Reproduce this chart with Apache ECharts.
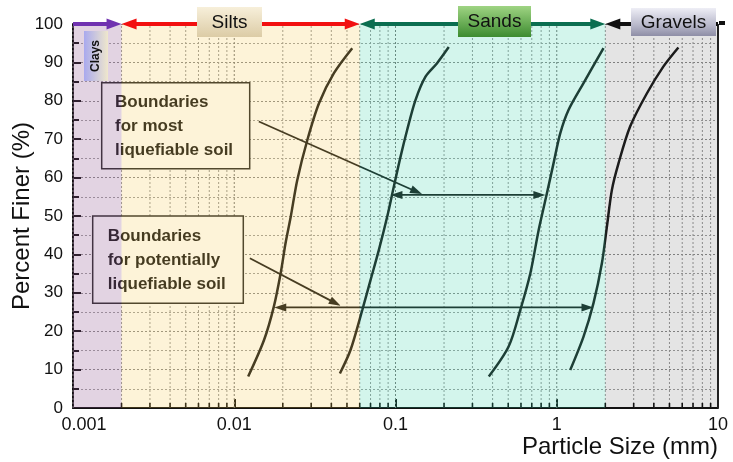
<!DOCTYPE html>
<html><head><meta charset="utf-8">
<script src="https://cdn.jsdelivr.net/npm/echarts@6/dist/echarts.min.js"></script>
<style>html,body{margin:0;padding:0;background:#fff}#c{width:733px;height:462px}</style>
</head><body><div id="c"></div>
<script>
// ---------- data ----------
const xTickLabels = [0.001, 0.01, 0.1, 1, 10];
const yTickLabels = [0,10,20,30,40,50,60,70,80,90,100];
const xDecades = [0.001, 0.01, 0.1, 1];
const xMultipliers = [1,2,3,4,5,6,7,8,9];
const bandNames = ['Clays','Silts','Sands','Gravels'];
const bandEdges = [0.001, 0.002, 0.06, 2, 10];
const topHeads = [[0,1],[1,1],[1,1],[1,0]];

const curveA = [[0.0122,8.2],[0.0153,17.7],[0.0176,26.4],[0.0194,35.1],[0.0208,42.9],[0.0224,49.8],[0.0246,59.4],[0.0284,69.8],[0.0335,79.3],[0.0415,87.2],[0.0539,93.7]];
const curveB = [[0.0452,9.0],[0.0526,15.1],[0.0622,25.5],[0.070,33.3],[0.0788,41.1],[0.0888,49.8],[0.0976,57.6],[0.1074,65.4],[0.1181,72.4],[0.133,80.2],[0.1535,86.3],[0.181,89.8],[0.214,94.0]];
const curveC = [[0.379,8.2],[0.503,16.0],[0.594,25.5],[0.686,35.1],[0.772,46.3],[0.869,55.9],[0.955,63.7],[1.051,71.5],[1.183,77.6],[1.466,84.6],[1.95,93.7]];
const curveD = [[1.212,9.9],[1.466,18.6],[1.69,27.3],[1.905,37.7],[2.046,47.2],[2.198,56.8],[2.415,63.7],[2.851,73.3],[3.619,81.9],[4.58,88.9],[5.68,93.9]];

const arrowMost = [0.093,55.5,0.85,55.5,1,1];
const arrowPotential = [0.0177,26.2,1.69,26.2,1,1];
const pointerMost = [0.0142,74.6,0.146,55.7,0,1];
const pointerPotential = [0.0125,39.0,0.0457,26.6,0,1];

const boxMostText = 'Boundaries\nfor most\nliquefiable soil';
const boxPotText = 'Boundaries\nfor potentially\nliquefiable soil';

// ---------- styles ----------
const FONT = '"Liberation Sans", Arial, sans-serif';
const bandFill = ['rgba(140,80,140,0.25)','rgba(245,195,60,0.2)','rgba(35,205,160,0.2)','rgba(30,30,30,0.12)'];
const topColors = ['#7032b0','#f21010','#0b6e50','#111111'];

const gridX = [];
xDecades.forEach(d => xMultipliers.forEach(m => gridX.push([Number((d*m).toPrecision(3))])));
gridX.push([10]);

function arrowRenderer(colorFn, lw, L, W) {
  return function (params, api) {
    const a = api.coord([api.value(0), api.value(1)]);
    const b = api.coord([api.value(2), api.value(3)]);
    const hs = api.value(4), he = api.value(5);
    const dx = b[0]-a[0], dy = b[1]-a[1];
    const len = Math.sqrt(dx*dx+dy*dy);
    const ux = dx/len, uy = dy/len, nx = -uy, ny = ux;
    const col = colorFn(params.dataIndex);
    const s = hs ? [a[0]+ux*L*0.8, a[1]+uy*L*0.8] : a;
    const e = he ? [b[0]-ux*L*0.8, b[1]-uy*L*0.8] : b;
    const children = [{type:'line', shape:{x1:s[0],y1:s[1],x2:e[0],y2:e[1]}, style:{stroke:col, lineWidth:lw}}];
    if (he) {
      const bx = b[0]-ux*L, by = b[1]-uy*L;
      children.push({type:'polygon', shape:{points:[[b[0],b[1]],[bx+nx*W,by+ny*W],[bx-nx*W,by-ny*W]]}, style:{fill:col}});
    }
    if (hs) {
      const bx = a[0]+ux*L, by = a[1]+uy*L;
      children.push({type:'polygon', shape:{points:[[a[0],a[1]],[bx+nx*W,by+ny*W],[bx-nx*W,by-ny*W]]}, style:{fill:col}});
    }
    return {type:'group', children};
  };
}

const chart = echarts.init(document.getElementById('c'), null, {renderer:'canvas'});
const topData = bandNames.map((n,i) => [bandEdges[i],100,bandEdges[i+1],100,topHeads[i][0],topHeads[i][1]]);

chart.setOption({
  animation: false,
  backgroundColor: '#ffffff',
  grid: {left:73, right:15, top:24, bottom:54, containLabel:false, outerBoundsMode:'none'},
  xAxis: {
    type:'log', logBase:10, min:xTickLabels[0], max:xTickLabels[xTickLabels.length-1],
    axisLine:{show:true, lineStyle:{color:'#111', width:2}},
    axisTick:{show:true, inside:true, length:9, lineStyle:{color:'#111', width:2}},
    axisLabel:{fontSize:18, color:'#111', fontFamily:FONT, margin:8,
      formatter: v => {
        const s = String(Number(Number(v).toPrecision(3)));
        return Math.abs(v - xTickLabels[0]) < 1e-9 ? '{first|' + s + '}' : s;
      },
      rich:{first:{fontSize:18, color:'#111', fontFamily:FONT, padding:[0,0,0,22]}}},
    splitLine:{show:false},
    name:'Particle Size (mm)', nameLocation:'end', nameGap:0, nameMoveOverlap:false,
    nameTextStyle:{fontSize:24, color:'#111', fontFamily:FONT, align:'right', verticalAlign:'top', padding:[27,0,0,0]}
  },
  yAxis: {
    type:'value', min:0, max:100, interval:10,
    axisLine:{show:true, lineStyle:{color:'#111', width:2}},
    axisTick:{show:true, inside:true, length:8, lineStyle:{color:'#111', width:2}},
    minorTick:{show:true, splitNumber:2, length:6, lineStyle:{color:'#111', width:2}},
    axisLabel:{fontSize:17, color:'#111', fontFamily:FONT, margin:10},
    splitLine:{show:true, lineStyle:{color:'#8c8c8c', width:1, type:[2,2]}},
    minorSplitLine:{show:true, lineStyle:{color:'#a0a0a0', width:1, type:[2,2]}},
    name:'Percent Finer (%)', nameLocation:'middle', nameGap:39, nameMoveOverlap:false,
    nameTextStyle:{fontSize:24, color:'#111', fontFamily:FONT}
  },
  graphic: [
    {type:'rect', z:3, shape:{x:101.7,y:82.7,width:148,height:86}, style:{fill:'#fff', stroke:'#2a2a2a', lineWidth:1.5}},
    {type:'text', z:4, x:115, y:90.7, style:{text:boxMostText, font:'bold 17px '+FONT, fill:'#1a1a1a', lineHeight:24, verticalAlign:'top'}},
    {type:'rect', z:3, shape:{x:92.7,y:216,width:150.6,height:87.3}, style:{fill:'#fff', stroke:'#2a2a2a', lineWidth:1.5}},
    {type:'text', z:4, x:107.7, y:224.7, style:{text:boxPotText, font:'bold 17px '+FONT, fill:'#1a1a1a', lineHeight:23.7, verticalAlign:'top'}},
    // top labels
    {type:'rect', z:40, shape:{x:197,y:7,width:65,height:30}, style:{fill:new echarts.graphic.LinearGradient(0,0,0,1,[{offset:0,color:'#f7efda'},{offset:1,color:'#dccca6'}])}},
    {type:'text', z:41, x:229.5, y:22.5, style:{text:'Silts', font:'19px '+FONT, fill:'#111', align:'center', verticalAlign:'middle'}},
    {type:'rect', z:40, shape:{x:458,y:6,width:73,height:31}, style:{fill:new echarts.graphic.LinearGradient(0,0,0,1,[{offset:0,color:'#9fd483'},{offset:1,color:'#3d8c30'}])}},
    {type:'text', z:41, x:494.5, y:22, style:{text:'Sands', font:'19px '+FONT, fill:'#111', align:'center', verticalAlign:'middle'}},
    {type:'rect', z:40, shape:{x:631,y:8,width:85,height:28}, style:{fill:new echarts.graphic.LinearGradient(0,0,0,1,[{offset:0,color:'#eeeef6'},{offset:0.6,color:'#b9b9cb'},{offset:1,color:'#8e8ea6'}])}},
    {type:'text', z:41, x:673.5, y:22.5, style:{text:'Gravels', font:'19px '+FONT, fill:'#111', align:'center', verticalAlign:'middle'}},
    {type:'rect', z:40, shape:{x:719,y:21,width:6,height:4}, style:{fill:'#111'}},
    {type:'rect', z:40, shape:{x:84,y:31,width:24,height:50}, style:{fill:new echarts.graphic.LinearGradient(0,0,1,0,[{offset:0,color:'#a9a9ee'},{offset:1,color:'#efe7cc'}])}},
    {type:'text', z:41, x:96, y:56, rotation:Math.PI/2, style:{text:'Clays', font:'bold 12px '+FONT, fill:'#111', align:'center', verticalAlign:'middle'}}
  ],
  series: [
    { // graph-paper vertical lines + minor ticks
      type:'custom', z:1, silent:true, data:gridX, encode:{x:0},
      renderItem:(params, api) => {
        const v = api.value(0);
        const p0 = api.coord([v,0]), p1 = api.coord([v,100]);
        const isDecade = xDecades.indexOf(v) >= 0;
        const isEnd = v === bandEdges[bandEdges.length-1];
        const ch = [{type:'line', shape:{x1:p0[0],y1:p0[1],x2:p1[0],y2:p1[1]},
          style: isEnd ? {stroke:'#222', lineWidth:2} : {stroke: isDecade ? '#7a7a7a' : '#9a9a9a', lineWidth:1, lineDash:[2,2]}}];
        if (!isDecade && !isEnd) ch.push({type:'line', shape:{x1:p0[0],y1:p0[1],x2:p0[0],y2:p0[1]-5}, style:{stroke:'#111', lineWidth:1.6}});
        return {type:'group', children:ch};
      }
    },
    {type:'line', z:4, data:curveA, smooth:0.3, symbol:'none', lineStyle:{color:'#1c1c1c', width:2.5}, silent:true},
    {type:'line', z:4, data:curveB, smooth:0.3, symbol:'none', lineStyle:{color:'#1c1c1c', width:2.5}, silent:true},
    {type:'line', z:4, data:curveC, smooth:0.3, symbol:'none', lineStyle:{color:'#1c1c1c', width:2.5}, silent:true},
    {type:'line', z:4, data:curveD, smooth:0.3, symbol:'none', lineStyle:{color:'#1c1c1c', width:2.5}, silent:true},
    { // inner arrows
      type:'custom', z:5, silent:true, clip:false,
      data:[arrowMost, arrowPotential, pointerMost, pointerPotential],
      encode:{x:[0,2], y:[1,3]},
      renderItem: arrowRenderer(() => '#1c1c1c', 1.8, 12, 4)
    },
    { // band overlays
      type:'custom', z:10, silent:true,
      data: bandNames.map((n,i) => [bandEdges[i], bandEdges[i+1]]),
      encode:{x:[0,1]},
      renderItem:(params, api) => {
        const p0 = api.coord([api.value(0),100]), p1 = api.coord([api.value(1),0]);
        return {type:'rect', shape:{x:p0[0], y:p0[1], width:p1[0]-p0[0], height:p1[1]-p0[1]}, style:{fill:bandFill[params.dataIndex]}};
      }
    },
    { // top range arrows
      type:'custom', z:30, silent:true, clip:false,
      data: topData, encode:{x:[0,2], y:[1,3]},
      renderItem: arrowRenderer(i => topColors[i], 4, 15, 5.5)
    }
  ]
});
</script></body></html>
